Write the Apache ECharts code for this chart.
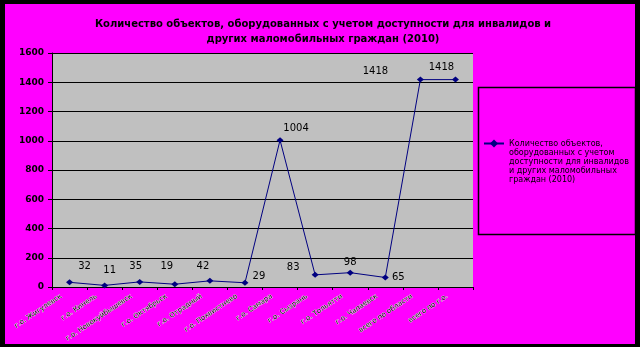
<!DOCTYPE html>
<html><head><meta charset="utf-8">
<script src="https://cdn.jsdelivr.net/npm/echarts@6/dist/echarts.min.js"></script>
<style>html,body{margin:0;padding:0;background:#000;}#c{width:640px;height:347px;}</style>
</head><body><div id="c"></div>
<script>
const titleText = 'Количество объектов, оборудованных с учетом доступности для инвалидов и\nдругих маломобильных граждан (2010)';
const seriesName = 'Количество объектов,\nоборудованных с учетом\nдоступности для инвалидов\nи других маломобильных\nграждан (2010)';
const categories = ['г.о. Жигулевск','г.о. Кинель','г.о. Новокуйбышевск','г.о. Октябрьск','г.о. Отрадный','г.о. Похвистнево','г.о. Самара','г.о. Сызрань','г.о. Тольятти','г.о. Чапаевск','всего по области','всего по г.о.'];
const values = [32, 11, 35, 19, 42, 29, 1004, 83, 98, 65, 1418, 1418];
const yTicks = [0, 200, 400, 600, 800, 1000, 1200, 1400, 1600];
// manual label displacements (as in the original, labels were dragged)
const labelOffsets = [[15,-16],[5,-15],[-4,-15],[-8,-18],[-7,-14],[14,-6],[16,-12],[-22,-7],[0,-10],[13,0],[-45,-8],[-14,-12]];

const chart = echarts.init(document.getElementById('c'));
chart.setOption({
  backgroundColor: '#000',
  animation: false,
  graphic: [
    {type:'rect', z:-100, silent:true, shape:{x:5,y:4,width:630,height:340}, style:{fill:'#FF00FF'}},
    {type:'rect', z:100, silent:true, shape:{x:478.5,y:87.5,width:157,height:147}, style:{fill:'none', stroke:'#000', lineWidth:1.5}}
  ],
  title: {
    text: titleText, left: 318, textAlign: 'center', top: 12,
    textStyle: {fontFamily:'DejaVu Sans', fontWeight:'bold', fontSize:10, lineHeight:15, color:'#000'}
  },
  legend: {
    left: 483, top: 103, padding: 0, itemWidth: 20, itemHeight: 10,
    formatter: name => '\n\n\n\n' + name,
    textStyle: {fontFamily:'DejaVu Sans', fontSize:8, lineHeight:9, color:'#000'}
  },
  grid: {left: 52, right: 167, top: 53, bottom: 60, show: true, backgroundColor: '#C0C0C0', borderWidth: 0},
  xAxis: {
    type: 'category', data: categories, boundaryGap: true,
    axisLine: {lineStyle: {color:'#000', width:1}},
    axisTick: {show: true, length: 3, lineStyle: {color:'#000'}},
    axisLabel: {rotate: 34, interval: 0, margin: 3, padding: [0, 10, 0, 0],
      fontFamily:'DejaVu Sans', fontSize: 7, color:'#000', textBorderColor:'#fff', textBorderWidth: 0.6}
  },
  yAxis: {
    type: 'value', min: yTicks[0], max: yTicks[yTicks.length-1], interval: 200,
    axisLine: {show: true, lineStyle: {color:'#000', width:1}},
    axisTick: {show: true, length: 4, lineStyle: {color:'#000'}},
    splitLine: {lineStyle: {color:'#000', width:1}},
    axisLabel: {margin: 8, formatter: v => String(v), fontFamily:'DejaVu Sans', fontWeight:'bold', fontSize: 9, color:'#000'}
  },
  series: [{
    type: 'line', name: seriesName,
    data: values.map((v, i) => ({value: v, label: {offset: labelOffsets[i]}})),
    symbol: 'diamond', symbolSize: [7, 6],
    lineStyle: {color:'#000080', width: 1},
    itemStyle: {color:'#000080'},
    label: {show: true, position: 'inside', fontFamily:'DejaVu Sans', fontSize: 10, color:'#000'}
  }]
});
</script>
</body></html>
